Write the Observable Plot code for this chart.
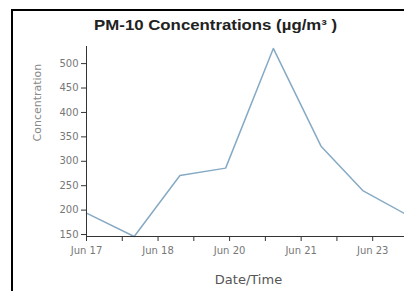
<!DOCTYPE html>
<html>
<head>
<meta charset="utf-8">
<script src="https://cdn.jsdelivr.net/npm/d3@7"></script>
<script src="https://cdn.jsdelivr.net/npm/@observablehq/plot@0.6"></script>
<style>
  html, body { margin: 0; padding: 0; background: #fff; overflow: hidden; }
  #wrap { position: relative; width: 404px; height: 291px; font-family: "Liberation Sans", Arial, sans-serif; }
  #frame { position: absolute; left: 11px; top: 9px; width: 500px; height: 400px; border-left: 2px solid #000; border-top: 2px solid #000; box-sizing: border-box; }
  #title { position: absolute; left: 0; top: 17px; width: 431px; text-align: center; font-weight: bold; font-size: 14px; color: #222; transform: scaleX(1.2); transform-origin: 215px 0; }
  #chart { position: absolute; left: 0; top: 30px; }
</style>
</head>
<body>
<div id="wrap">
  <div id="frame"></div>
  <div id="title">PM-10 Concentrations (µg/m³ )</div>
  <div id="chart"></div>
</div>
<script>
const dates = ["2023-06-17T00:00Z","2023-06-18T00:00Z","2023-06-18T23:00Z","2023-06-19T22:00Z","2023-06-20T22:00Z","2023-06-21T22:00Z","2023-06-22T19:00Z","2023-06-23T16:00Z"];
const values = [194, 146, 271, 286, 531, 331, 240, 193];
const yTicks = [150, 200, 250, 300, 350, 400, 450, 500];
const xTicks = ["2023-06-17T00:00Z","2023-06-17T18:00Z","2023-06-18T12:00Z","2023-06-19T06:00Z","2023-06-20T00:00Z","2023-06-20T18:00Z","2023-06-21T12:00Z","2023-06-22T06:00Z","2023-06-23T00:00Z"];
const xTickLabels = ["Jun 17","","Jun 18","","Jun 20","","Jun 21","","Jun 23"];
const xDomain = ["2023-06-17T00:00Z","2023-06-23T16:00Z"];
const yDomain = [146, 535];

const data = dates.map((d, i) => ({date: new Date(d), value: values[i]}));
const tickDates = xTicks.map(d => new Date(d));
const labelOf = new Map(tickDates.map((d, i) => [+d, xTickLabels[i]]));

const chart = Plot.plot({
  width: 404,
  height: 261,
  marginTop: 16,
  marginBottom: 55,
  marginLeft: 86,
  marginRight: 0,
  style: {fontFamily: "'DejaVu Sans', Verdana, sans-serif", background: "transparent", overflow: "visible"},
  x: {type: "utc", domain: xDomain.map(d => new Date(d))},
  y: {domain: yDomain},
  marks: [
    Plot.line(data, {x: "date", y: "value", stroke: "#86aac4", strokeWidth: 1.5}),
    Plot.ruleY([yDomain[0]], {stroke: "#333", strokeWidth: 1}),
    Plot.ruleX([new Date(xDomain[0])], {y1: yDomain[0], y2: yDomain[1], stroke: "#333", strokeWidth: 1}),
    Plot.axisY(yTicks, {tickSize: 5, tickPadding: 3, fontSize: 10, fill: "#777", stroke: "#333", label: null}),
    Plot.axisX(tickDates, {tickSize: 5, tickPadding: 5, fontSize: 10, fill: "#777", stroke: "#333", label: null, tickFormat: d => labelOf.get(+d)}),
    Plot.text(["Date/Time"], {frameAnchor: "bottom", dx: 3, dy: 47, fontSize: 13, fill: "#555"}),
    Plot.text(["Concentration"], {frameAnchor: "left", dx: -49, rotate: -90, fontSize: 11, fill: "#888"})
  ]
});
document.getElementById("chart").appendChild(chart);
</script>
</body>
</html>
